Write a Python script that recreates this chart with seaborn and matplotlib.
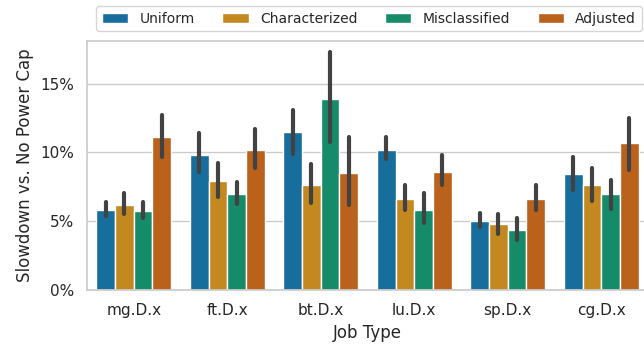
import pandas as pd
import seaborn as sns
import matplotlib
matplotlib.use("Agg")
import matplotlib.pyplot as plt
from matplotlib.ticker import PercentFormatter

# Values (percent slowdown): mean, lower and upper CI
jobs = ["mg.D.x", "ft.D.x", "bt.D.x", "lu.D.x", "sp.D.x", "cg.D.x"]
schemes = ["Uniform", "Characterized", "Misclassified", "Adjusted"]

mean = {
    "Uniform":       [5.8, 9.8, 11.5, 10.2, 5.05, 8.45],
    "Characterized": [6.2, 7.9, 7.6, 6.65, 4.8, 7.65],
    "Misclassified": [5.75, 6.95, 13.9, 5.85, 4.35, 6.95],
    "Adjusted":      [11.1, 10.2, 8.5, 8.6, 6.6, 10.65],
}
low = {
    "Uniform":       [5.4, 8.6, 9.9, 9.55, 4.55, 7.3],
    "Characterized": [5.55, 6.75, 6.3, 5.8, 4.05, 6.5],
    "Misclassified": [5.2, 6.25, 10.75, 4.85, 3.65, 5.9],
    "Adjusted":      [9.7, 8.85, 6.15, 7.6, 5.8, 8.75],
}
high = {
    "Uniform":       [6.4, 11.4, 13.1, 11.15, 5.6, 9.65],
    "Characterized": [7.05, 9.2, 9.15, 7.6, 5.55, 8.85],
    "Misclassified": [6.4, 7.85, 17.3, 7.05, 5.2, 8.0],
    "Adjusted":      [12.75, 11.7, 11.15, 9.8, 7.6, 12.5],
}

# long-form table: three rows per bar (low, mean, high)
rows = []
for s in schemes:
    for i, j in enumerate(jobs):
        for v in (low[s][i], mean[s][i], high[s][i]):
            rows.append({"Job Type": j, "Scheme": s, "Slowdown": v})
df = pd.DataFrame(rows)

sns.set_theme(style="whitegrid", context="notebook")
plt.rcParams["font.family"] = ["DejaVu Sans"]

fig = plt.figure(figsize=(6.44, 3.51), dpi=100)
ax = fig.add_axes([87 / 644, 61 / 351, 561 / 644, 249 / 351])

sns.barplot(data=df, x="Job Type", y="Slowdown", hue="Scheme", order=jobs,
            hue_order=schemes, palette="colorblind", estimator="median",
            errorbar=lambda x: (x.min(), x.max()), err_kws={"linewidth": 3},
            ax=ax)

ax.set_ylim(0, 18.1)
ax.set_yticks([0, 5, 10, 15])
ax.yaxis.set_major_formatter(PercentFormatter(decimals=0))
ax.set_ylabel("Slowdown vs. No Power Cap")
ax.set_xlabel("Job Type")

handles, labels = ax.get_legend_handles_labels()
ax.get_legend().remove()
fig.legend(handles, labels, loc="upper center", bbox_to_anchor=(369 / 644, 1 - 6 / 351),
           borderaxespad=0, ncol=4, fontsize=10, frameon=True, handlelength=1.9,
           columnspacing=2.0)

fig.savefig("out.png", dpi=100)
